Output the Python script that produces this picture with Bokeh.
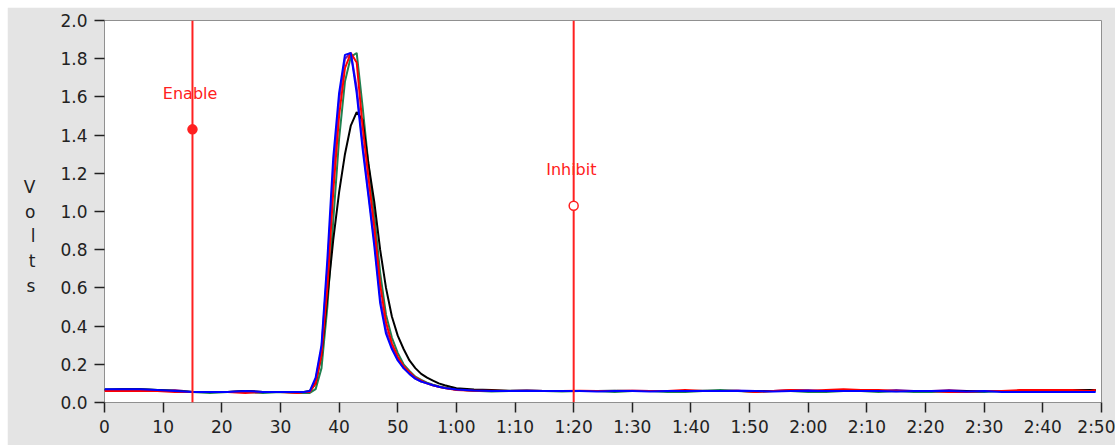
from bokeh.plotting import figure
from bokeh.models import Range1d, FixedTicker
from bokeh.embed import file_html
from bokeh.resources import INLINE
from bokeh.core.properties import value

# time in seconds
t = [0, 3, 6, 9, 12, 15, 18, 21, 24, 27, 30, 33, 34, 35, 36, 37, 38, 39, 40, 41, 42, 43,
     44, 45, 46, 47, 48, 49, 50, 51, 52, 53, 54, 55, 56, 57, 58, 59, 60, 63, 66, 69, 72,
     75, 78, 81, 84, 87, 90, 93, 96, 99, 102, 105, 108, 111, 114, 117, 120, 123, 126, 129,
     132, 135, 138, 141, 144, 147, 150, 153, 156, 159, 162, 165, 168, 169]

blue = [0.07, 0.07, 0.07, 0.065, 0.06, 0.055, 0.055, 0.055, 0.06, 0.055, 0.055, 0.055, 0.055,
        0.06, 0.13, 0.30, 0.75, 1.28, 1.62, 1.82, 1.83, 1.62, 1.33, 1.08, 0.82, 0.52, 0.36,
        0.28, 0.22, 0.18, 0.15, 0.125, 0.11, 0.10, 0.09, 0.082, 0.076, 0.072, 0.068, 0.063,
        0.06, 0.06, 0.062, 0.06, 0.06, 0.06, 0.058, 0.06, 0.06, 0.058, 0.06, 0.06, 0.06,
        0.06, 0.062, 0.06, 0.058, 0.06, 0.06, 0.06, 0.06, 0.06, 0.06, 0.058, 0.06, 0.06,
        0.06, 0.058, 0.06, 0.055, 0.055, 0.055, 0.055, 0.055, 0.055, 0.055]
red = [0.06, 0.06, 0.06, 0.06, 0.055, 0.055, 0.055, 0.055, 0.05, 0.055, 0.055, 0.05, 0.055,
       0.055, 0.10, 0.25, 0.60, 1.10, 1.50, 1.75, 1.83, 1.78, 1.45, 1.18, 0.92, 0.62, 0.42,
       0.31, 0.24, 0.19, 0.16, 0.13, 0.115, 0.10, 0.09, 0.082, 0.076, 0.07, 0.066, 0.062,
       0.062, 0.06, 0.062, 0.06, 0.06, 0.062, 0.06, 0.06, 0.062, 0.06, 0.06, 0.065, 0.06,
       0.06, 0.062, 0.055, 0.06, 0.065, 0.06, 0.065, 0.07, 0.065, 0.065, 0.06, 0.06, 0.06,
       0.055, 0.055, 0.06, 0.06, 0.065, 0.065, 0.065, 0.065, 0.06, 0.065]
green = [0.07, 0.07, 0.07, 0.065, 0.06, 0.055, 0.05, 0.055, 0.055, 0.05, 0.055, 0.05, 0.05,
         0.05, 0.07, 0.18, 0.50, 0.95, 1.38, 1.68, 1.81, 1.83, 1.55, 1.25, 0.98, 0.68, 0.46,
         0.34, 0.26, 0.20, 0.165, 0.135, 0.118, 0.104, 0.093, 0.085, 0.078, 0.072, 0.068,
         0.062, 0.058, 0.06, 0.062, 0.06, 0.058, 0.06, 0.06, 0.055, 0.06, 0.06, 0.055, 0.055,
         0.06, 0.065, 0.06, 0.055, 0.06, 0.06, 0.055, 0.055, 0.06, 0.06, 0.055, 0.06, 0.055,
         0.055, 0.06, 0.055, 0.055, 0.06, 0.055, 0.055, 0.06, 0.06, 0.06, 0.06]
black = [0.065, 0.07, 0.07, 0.065, 0.06, 0.055, 0.055, 0.055, 0.06, 0.055, 0.055, 0.055, 0.055,
         0.06, 0.10, 0.25, 0.55, 0.85, 1.10, 1.30, 1.45, 1.52, 1.48, 1.25, 1.05, 0.80, 0.60,
         0.45, 0.35, 0.28, 0.22, 0.18, 0.15, 0.13, 0.115, 0.10, 0.09, 0.082, 0.075, 0.068,
         0.065, 0.062, 0.062, 0.06, 0.06, 0.06, 0.06, 0.062, 0.06, 0.06, 0.06, 0.06, 0.062,
         0.06, 0.06, 0.06, 0.06, 0.06, 0.06, 0.06, 0.06, 0.062, 0.06, 0.06, 0.06, 0.06,
         0.058, 0.06, 0.06, 0.06, 0.06, 0.06, 0.062, 0.065, 0.065, 0.065]
purple = [0.065, 0.065, 0.065, 0.06, 0.065, 0.055, 0.055, 0.055, 0.06, 0.055, 0.055, 0.055,
          0.055, 0.055, 0.12, 0.28, 0.70, 1.20, 1.58, 1.80, 1.83, 1.65, 1.36, 1.10, 0.85,
          0.55, 0.38, 0.29, 0.23, 0.18, 0.15, 0.125, 0.11, 0.10, 0.09, 0.082, 0.076, 0.072,
          0.068, 0.062, 0.06, 0.06, 0.062, 0.06, 0.06, 0.06, 0.06, 0.06, 0.062, 0.06, 0.06,
          0.06, 0.06, 0.06, 0.062, 0.06, 0.06, 0.065, 0.065, 0.06, 0.06, 0.06, 0.06, 0.065,
          0.06, 0.06, 0.065, 0.06, 0.06, 0.06, 0.06, 0.06, 0.06, 0.065, 0.065, 0.065]

series_names = ["purple", "green", "black", "red", "blue"]
series_colors = ["#8020a0", "#208050", "#000000", "#ff0000", "#0000ff"]

x_ticks = list(range(0, 171, 10))
x_tick_labels = ["0", "10", "20", "30", "40", "50", "1:00", "1:10", "1:20", "1:30", "1:40",
                 "1:50", "2:00", "2:10", "2:20", "2:30", "2:40", "2:50"]
y_ticks = [0.0, 0.2, 0.4, 0.6, 0.8, 1.0, 1.2, 1.4, 1.6, 1.8, 2.0]

cursor_x = [15, 80]
cursor_y = [1.43, 1.03]
cursor_names = ["Enable", "Inhibit"]
cursor_label_y = [1.62, 1.22]

y_title_letters = ["V", "o", "l", "t", "s"]

font = "DejaVu Sans"
p = figure(width=1108, height=438, output_backend="svg", toolbar_location=None,
           x_range=Range1d(0, 170), y_range=Range1d(0, 2.0),
           min_border_left=97, min_border_right=14, min_border_top=13, min_border_bottom=43,
           background_fill_color="white", border_fill_color="#e4e4e4",
           outline_line_color="#909090", outline_line_width=1)
p.margin = (7, 0, 0, 7)
p.xgrid.visible = False
p.ygrid.visible = False

data = {"purple": purple, "green": green, "black": black, "red": red, "blue": blue}
for name, col in zip(series_names, series_colors):
    p.line(t, data[name], line_color=col, line_width=2)

# cursors
for cx, cy, nm, ly, filled in zip(cursor_x, cursor_y, cursor_names, cursor_label_y, [True, False]):
    p.segment(x0=[cx], y0=[0], x1=[cx], y1=[2.0], line_color="#ff2020", line_width=2)
    p.scatter([cx], [cy], size=9, line_color="#ff2020", line_width=1.5,
              fill_color="#ff2020" if filled else "white")
    p.text([cx - 0.4], [ly], text=[nm], text_color="#ff2020", text_align="center",
           text_baseline="middle", text_font=value(font), text_font_size="16px")

p.xaxis.ticker = FixedTicker(ticks=x_ticks)
p.xaxis.major_label_overrides = {tk: lb for tk, lb in zip(x_ticks, x_tick_labels)}
p.yaxis.ticker = FixedTicker(ticks=y_ticks)
p.yaxis.major_label_overrides = {tk: "%.1f" % tk for tk in y_ticks}
for ax in (p.xaxis, p.yaxis):
    ax.minor_tick_line_color = None
    ax.major_tick_in = 0
    ax.major_tick_out = 10
    ax.major_tick_line_color = "#222222"
    ax.major_tick_line_width = 1.5
    ax.major_label_text_font = font
    ax.major_label_text_font_size = "17px"
    ax.major_label_text_color = "#222222"
    ax.axis_line_color = None
p.xaxis.major_label_standoff = 4
p.yaxis.major_label_standoff = 7

# stacked y-axis title (two blank lines on top push the letters down)
p.yaxis.axis_label = "\n".join([" ", " "] + y_title_letters)
p.yaxis.axis_label_orientation = "horizontal"
p.yaxis.axis_label_text_font = font
p.yaxis.axis_label_text_font_style = "normal"
p.yaxis.axis_label_text_font_size = "17px"
p.yaxis.axis_label_text_color = "#222222"
p.yaxis.axis_label_text_line_height = 1.24
p.yaxis.axis_label_standoff = 22

open("out.html", "w").write(file_html(p, INLINE))
